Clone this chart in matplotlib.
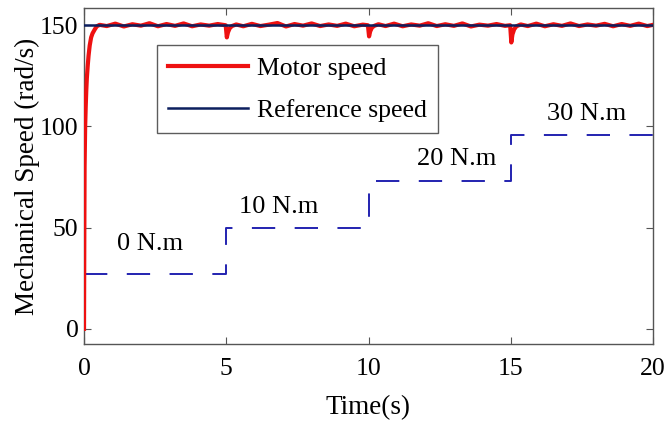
import matplotlib.pyplot as plt

plt.rcParams['font.family'] = ['Liberation Serif', 'DejaVu Serif']

# Velocidad del motor (rad/s)
t_motor = [0, 0.01, 0.02, 0.04, 0.06, 0.08, 0.1, 0.13, 0.16, 0.2, 0.25, 0.3, 0.38, 0.45, 0.55,
           0.8, 1.1, 1.4, 1.7, 2.0, 2.3, 2.6, 2.9, 3.2, 3.5, 3.8, 4.1, 4.4, 4.7, 4.98,
           5.02, 5.06, 5.12, 5.2, 5.35, 5.6, 5.9, 6.2, 6.5, 6.8, 7.1, 7.4, 7.7, 8.0, 8.3,
           8.6, 8.9, 9.2, 9.5, 9.8, 9.98, 10.02, 10.06, 10.12, 10.2, 10.35, 10.6, 10.9,
           11.2, 11.5, 11.8, 12.1, 12.4, 12.7, 13.0, 13.3, 13.6, 13.9, 14.2, 14.5, 14.8,
           14.98, 15.02, 15.06, 15.12, 15.2, 15.35, 15.6, 15.9, 16.2, 16.5, 16.8, 17.1,
           17.4, 17.7, 18.0, 18.3, 18.6, 18.9, 19.2, 19.5, 19.8, 20.0]
w_motor = [0, 45, 80, 100, 110, 118, 124, 130, 135, 140, 144, 146, 148, 149.5, 150.2,
           149.6, 150.8, 149.4, 150.5, 149.8, 151.0, 149.5, 150.6, 149.7, 150.9, 149.5, 150.4, 149.8, 150.6, 150.0,
           144.0, 146.5, 148.5, 149.6, 150.4, 149.5, 150.7, 149.6, 150.3, 151.1, 149.4, 150.6, 149.8, 150.9, 149.6,
           150.4, 149.7, 150.8, 149.5, 150.3, 150.0, 144.5, 147.0, 148.8, 149.7, 150.5, 149.6, 150.8,
           149.5, 150.4, 149.8, 151.0, 149.6, 150.5, 149.7, 150.9, 149.4, 150.3, 149.8, 150.6, 149.7,
           150.0, 141.5, 145.5, 148.0, 149.5, 150.4, 149.6, 150.8, 149.5, 150.5, 149.7, 150.9,
           149.6, 150.4, 149.8, 150.7, 149.5, 150.6, 149.7, 150.8, 149.6, 150.2]

# Velocidad de referencia
t_ref = [0, 20]
w_ref = [150, 150]

# Perfil de carga (escalado en el eje)
t_carga = [0, 5, 5, 10, 10, 15, 15, 20]
nivel_carga = [27, 27, 50, 50, 73, 73, 96, 96]

# Etiquetas de par
etiquetas = ['0 N.m', '10 N.m', '20 N.m', '30 N.m']
etiq_t = [2.32, 6.85, 13.1, 17.65]
etiq_y = [42, 60, 84, 106]

fig = plt.figure(figsize=(6.7, 4.24), dpi=100)
ax = fig.add_axes([0.1254, 0.1887, 0.8492, 0.7923])

ax.plot(t_motor, w_motor, color='#ee1111', lw=3.0, label='Motor speed', zorder=3)
ax.plot(t_ref, w_ref, color='#0c1f5e', lw=1.8, label='Reference speed', zorder=4)
ax.plot(t_carga, nivel_carga, color='#2222b0', lw=1.4, ls=(0, (12, 10)), zorder=2)

for txt, x, y in zip(etiquetas, etiq_t, etiq_y):
    ax.text(x, y, txt, ha='center', va='center', fontsize=19)

ax.set_xlim(0, 20)
ax.set_ylim(-7.5, 158.5)
ax.set_xticks([0, 5, 10, 15, 20])
ax.set_yticks([0, 50, 100, 150])
ax.tick_params(direction='in', top=True, right=True, labelsize=18.5, length=5,
               color='#555555')
ax.tick_params(axis='x', pad=10)
ax.tick_params(axis='y', pad=4)
for s in ax.spines.values():
    s.set_color('#555555')
    s.set_linewidth(1.0)

ax.set_xlabel('Time(s)', fontsize=19.5, labelpad=11)
ax.set_ylabel('Mechanical Speed (rad/s)', fontsize=19.5, labelpad=0)

leg = ax.legend(loc='upper left', bbox_to_anchor=(0.128, 0.89), fontsize=18.5,
                frameon=True, fancybox=False, edgecolor='#333333', handlelength=3.1,
                handletextpad=0.35, borderpad=0.45, labelspacing=0.75, borderaxespad=0)
leg.get_frame().set_linewidth(1.0)

fig.savefig('out.png', dpi=100)
